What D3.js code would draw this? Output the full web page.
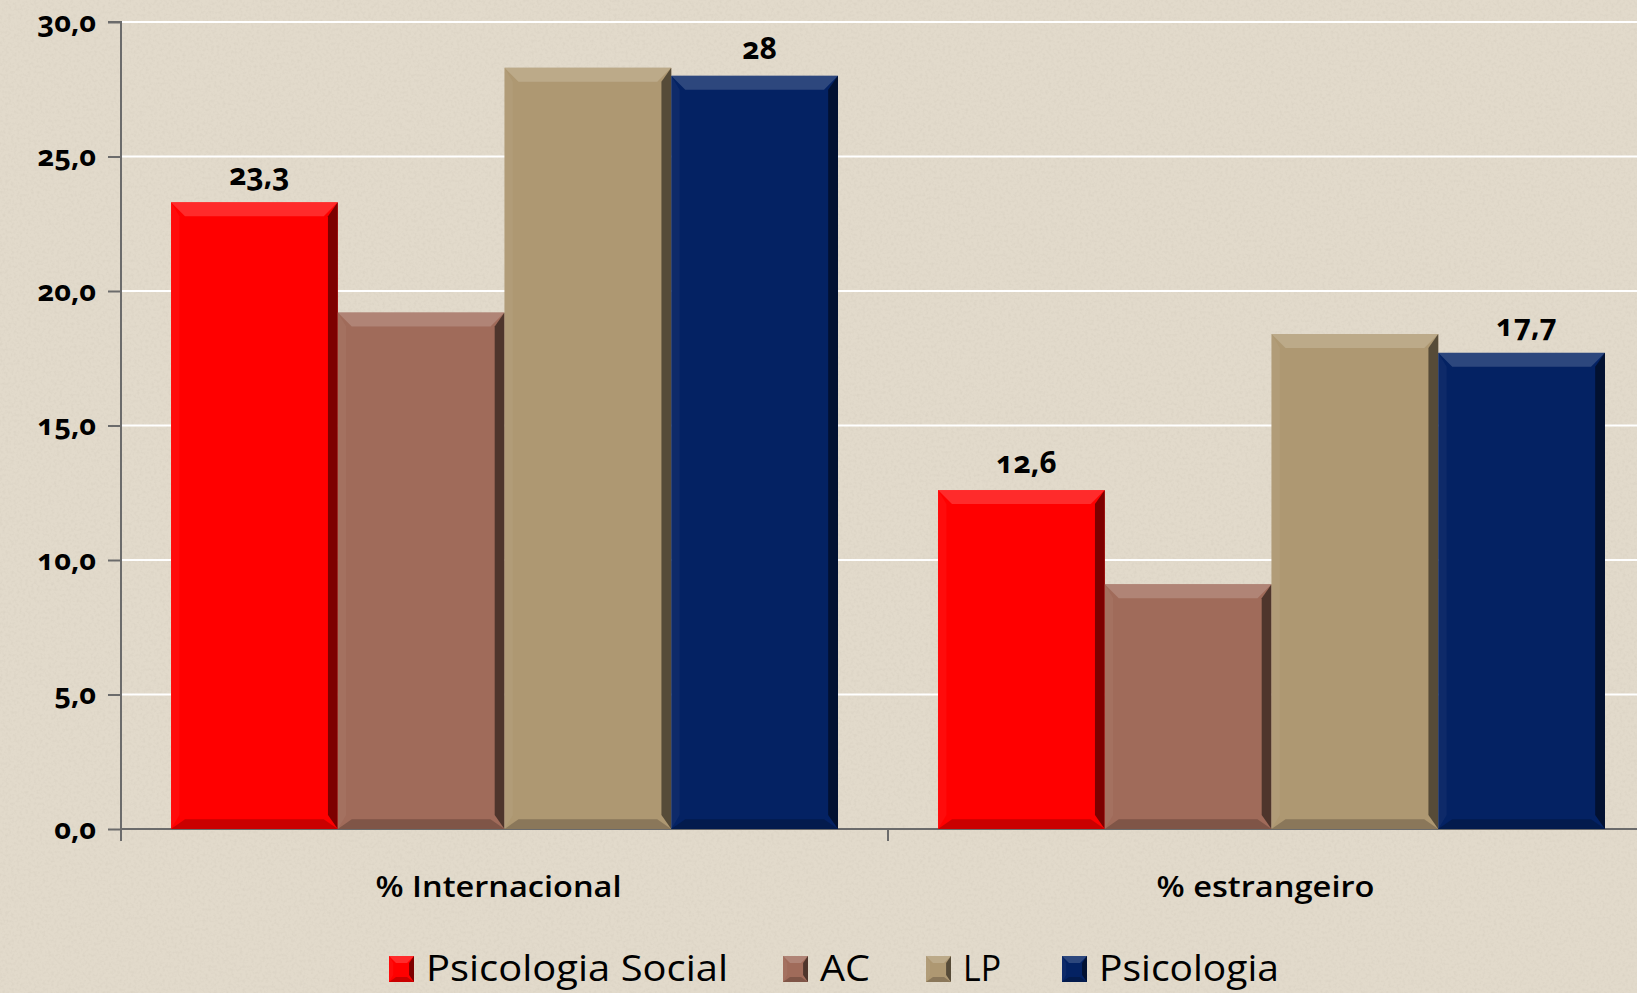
<!DOCTYPE html>
<html>
<head>
<meta charset="utf-8">
<script src="https://cdn.jsdelivr.net/npm/d3@7"></script>
<style>
  html, body { margin: 0; padding: 0; background: #e2dacb; overflow: hidden; }
  svg { display: block; font-family: "Open Sans", "Noto Sans", "DejaVu Sans", sans-serif; }
</style>
</head>
<body>
<svg id="chart" width="1637" height="993"></svg>
<script>
const categories = ["% Internacional", "% estrangeiro"];
const series = ["Psicologia Social", "AC", "LP", "Psicologia"];
const colors = ["#ff0000", "#a06b5a", "#ae9872", "#042263"];
const values = [
  [23.3, 19.2, 28.3, 28.0],
  [12.6, 9.1, 18.4, 17.7]
];
const labelled = [true, false, false, true];
const yTicks = [0, 5, 10, 15, 20, 25, 30];

const svg = d3.select("#chart");
const W = 1637, H = 993;

const defs = svg.append("defs");
const f = defs.append("filter").attr("id", "noise").attr("x", 0).attr("y", 0).attr("width", "100%").attr("height", "100%");
f.append("feTurbulence").attr("type", "fractalNoise").attr("baseFrequency", 0.35).attr("numOctaves", 2).attr("seed", 3).attr("result", "t");
f.append("feColorMatrix").attr("in", "t").attr("type", "matrix")
  .attr("values", "0 0 0 0 0.55  0 0 0 0 0.5  0 0 0 0 0.42  0 0 0 -1.3 0.75");
svg.append("rect").attr("width", W).attr("height", H).attr("fill", "#e2dacb");
svg.append("rect").attr("width", W).attr("height", H).attr("filter", "url(#noise)").attr("opacity", 0.35);

const y = d3.scaleLinear().domain([0, 30]).range([829, 22]);
const x0 = d3.scaleBand().domain(categories).range([121, 1655]).padding(0);
const x1 = d3.scaleBand().domain(series).range([0, x0.bandwidth()]).paddingInner(0).paddingOuter(0.3);

svg.append("g").selectAll("line").data(yTicks.filter(d => d > 0)).join("line")
  .attr("x1", 121).attr("x2", W).attr("y1", d => y(d)).attr("y2", d => y(d))
  .attr("stroke", "#ffffff").attr("stroke-width", 2);

const yAxis = d3.axisLeft(y).tickValues(yTicks).tickSize(13).tickPadding(12)
  .tickFormat(d => d3.format(".1f")(d).replace(".", ","));
const gy = svg.append("g").attr("transform", "translate(121,0)").call(yAxis);
gy.attr("font-family", null).attr("font-size", null);
gy.select(".domain").attr("stroke", "#6b6b6b").attr("stroke-width", 2).attr("d", `M-13,${y(30)}H0V${y(0)+12}`);
gy.selectAll(".tick line").attr("stroke", "#6b6b6b").attr("stroke-width", 2);
gy.selectAll(".tick text").attr("fill", "#000").attr("font-size", 29).attr("font-weight", "bold")
  .style("font-variant-numeric", "oldstyle-nums");

svg.append("line").attr("x1", 121).attr("x2", W).attr("y1", y(0)).attr("y2", y(0))
  .attr("stroke", "#6b6b6b").attr("stroke-width", 2);
svg.append("g").selectAll("line").data(categories.slice(1)).join("line")
  .attr("x1", d => x0(d)).attr("x2", d => x0(d)).attr("y1", y(0)).attr("y2", y(0) + 12)
  .attr("stroke", "#6b6b6b").attr("stroke-width", 2);
svg.append("g").selectAll("text").data(categories).join("text")
  .attr("x", d => x0(d) + 767 / 2 - 6).attr("y", 897)
  .attr("text-anchor", "middle").attr("font-size", 28).attr("font-weight", "600")
  .attr("fill", "#000").attr("textLength", (d, i) => i === 0 ? 246 : 218).attr("lengthAdjust", "spacingAndGlyphs")
  .text(d => d);

function bevel(g, x, yy, w, h, color, b) {
  const light = d3.interpolateRgb(color, "#ffffff")(0.28);
  const dark = d3.interpolateRgb(color, "#000000")(0.6);
  const dark2 = d3.interpolateRgb(color, "#000000")(0.3);
  g.append("rect").attr("x", x).attr("y", yy).attr("width", w).attr("height", h).attr("fill", color);
  if (h <= 0) return;
  const bb = Math.min(b, h / 2, w / 2);
  g.append("path").attr("d", `M${x},${yy}H${x+w}L${x+w-bb},${yy+bb}H${x+bb}Z`).attr("fill", light).attr("opacity", 0.6);
  g.append("path").attr("d", `M${x},${yy}L${x+bb*0.6},${yy+bb}V${yy+h-bb}L${x},${yy+h}Z`).attr("fill", light).attr("opacity", 0.15);
  g.append("path").attr("d", `M${x+w},${yy}V${yy+h}L${x+w-bb*0.7},${yy+h-bb}V${yy+bb}Z`).attr("fill", dark).attr("opacity", 0.85);
  g.append("path").attr("d", `M${x},${yy+h}H${x+w}L${x+w-bb},${yy+h-bb*0.7}H${x+bb}Z`).attr("fill", dark2).attr("opacity", 0.7);
}

const bars = svg.append("g");
categories.forEach((cat, ci) => {
  series.forEach((s, si) => {
    const v = values[ci][si];
    const bx = x0(cat) + x1(s);
    bevel(bars, bx, y(v), x1.bandwidth(), y(0) - y(v), colors[si], 14);
    if (labelled[si]) {
      bars.append("text").attr("x", bx + x1.bandwidth() / 2 + 5).attr("y", y(v) - 17)
        .attr("text-anchor", "middle").attr("font-size", 30).attr("font-weight", "bold").attr("fill", "#000")
        .style("font-variant-numeric", "oldstyle-nums")
        .text(String(v).replace(".", ","));
    }
  });
});

const legendX = [389, 783, 926, 1062];
const legendW = [302, 50, 38, 180];
const lg = svg.append("g");
series.forEach((s, i) => {
  bevel(lg, legendX[i], 956, 25, 26, colors[i], 7);
  lg.append("text").attr("x", legendX[i] + 37).attr("y", 981)
    .attr("font-size", 36).attr("fill", "#000")
    .attr("textLength", legendW[i]).attr("lengthAdjust", "spacingAndGlyphs")
    .text(s);
});
</script>
</body>
</html>
